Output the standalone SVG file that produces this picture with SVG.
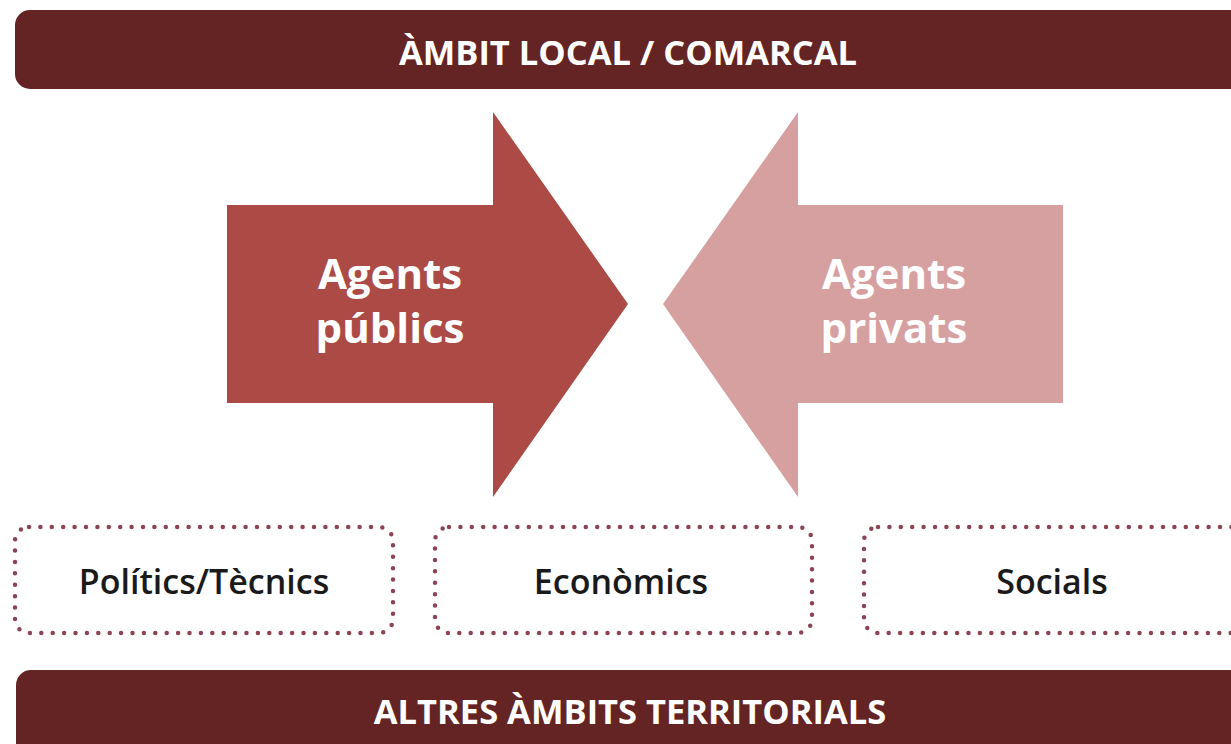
<svg xmlns="http://www.w3.org/2000/svg" width="1231" height="744" viewBox="0 0 1231 744">
<style>
.bar{fill:#632423}
.bartxt{font-family:"Open Sans","Liberation Sans",sans-serif;font-weight:700;font-size:34.5px;fill:#ffffff;text-anchor:middle}
.agtxt{font-family:"Open Sans","Liberation Sans",sans-serif;font-weight:700;font-size:42px;fill:#ffffff;text-anchor:middle}
.box{fill:#ffffff;stroke:#8c4455;stroke-width:4.5;stroke-linecap:round;stroke-dasharray:0 11.4}
.boxtxt{font-family:"Open Sans","Liberation Sans",sans-serif;font-weight:600;font-size:34px;fill:#1a1a1a;text-anchor:middle}
</style>
<rect width="1231" height="744" fill="#ffffff"/>
<g id="top-bar">
<rect class="bar" x="15" y="10" width="1240" height="79" rx="15"/>
<text class="bartxt" x="628" y="65">ÀMBIT LOCAL / COMARCAL</text>
</g>
<g id="agents-publics">
<polygon points="227,205 493,205 493,112 628,304 493,497 493,403 227,403" fill="#ac4a45"/>
<text class="agtxt" x="390" y="289">Agents</text>
<text class="agtxt" x="390" y="343">públics</text>
</g>
<g id="agents-privats">
<polygon points="1063,205 798,205 798,112 663,304 798,497 798,403 1063,403" fill="#d7a0a0"/>
<text class="agtxt" x="894" y="289">Agents</text>
<text class="agtxt" x="894" y="343">privats</text>
</g>
<g id="politics-tecnics">
<rect class="box" x="15" y="527" width="378" height="106" rx="14"/>
<text class="boxtxt" x="204" y="594">Polítics/Tècnics</text>
</g>
<g id="economics">
<rect class="box" x="435" y="527" width="377" height="106" rx="14"/>
<text class="boxtxt" x="621" y="594">Econòmics</text>
</g>
<g id="socials">
<rect class="box" x="864" y="527" width="400" height="106" rx="14"/>
<text class="boxtxt" x="1052" y="594">Socials</text>
</g>
<g id="bottom-bar">
<rect class="bar" x="16" y="670" width="1240" height="90" rx="15"/>
<text class="bartxt" x="630" y="724">ALTRES ÀMBITS TERRITORIALS</text>
</g>
<g id="connectors"></g>
</svg>
